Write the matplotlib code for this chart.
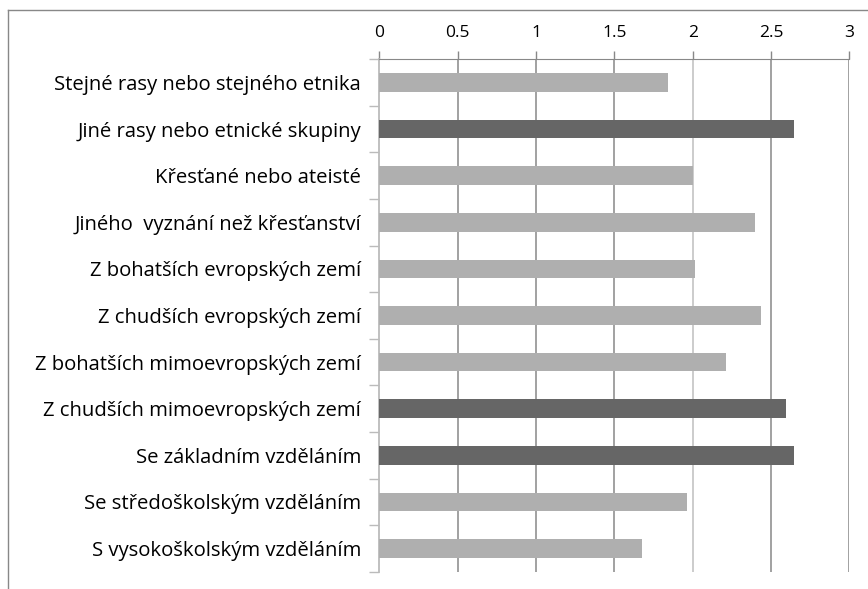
import matplotlib
matplotlib.use("Agg")
import matplotlib.pyplot as plt
import numpy as np
from matplotlib.lines import Line2D

categories = [
    "Stejné rasy nebo stejného etnika",
    "Jiné rasy nebo etnické skupiny",
    "Křesťané nebo ateisté",
    "Jiného  vyznání než křesťanství",
    "Z bohatších evropských zemí",
    "Z chudších evropských zemí",
    "Z bohatších mimoevropských zemí",
    "Z chudších mimoevropských zemí",
    "Se základním vzděláním",
    "Se středoškolským vzděláním",
    "S vysokoškolským vzděláním",
]
values = [1.84, 2.65, 2.0, 2.40, 2.015, 2.435, 2.21, 2.595, 2.65, 1.965, 1.675]
highlight = [False, True, False, False, False, False, False, True, True, False, False]
xticks = [0, 0.5, 1, 1.5, 2, 2.5, 3]
xtick_labels = ["0", "0.5", "1", "1.5", "2", "2.5", "3"]

light = "#AFAFAF"
dark = "#666666"

plt.rcParams['font.family'] = ['Open Sans', 'DejaVu Sans']

fig = plt.figure(figsize=(8.68, 5.89), dpi=100)
ax = fig.add_axes([379.3/868, 1-571.7/589, (849.3-379.3)/868, (571.7-59.3)/589])

n = len(categories)
y = np.arange(n)
colors = [dark if h else light for h in highlight]
ax.barh(y, values, height=0.4, color=colors, zorder=3)

ax.set_xlim(0, 3)
ax.set_ylim(n - 0.5, -0.5)
ax.xaxis.tick_top()
ax.set_xticks(xticks)
ax.set_xticklabels(xtick_labels, fontsize=12.5)
ax.tick_params(axis='x', direction='out', length=6, width=1, color='#888888', pad=7.5, labelcolor='black')

# y ticks at boundaries, labels at centers
ax.set_yticks(np.arange(-0.5, n, 1.0))
ax.set_yticklabels([])
ax.set_yticks(y, minor=True)
ax.set_yticklabels(categories, minor=True, fontsize=14.6)
ax.tick_params(axis='y', which='major', direction='out', length=7, width=1, color='#BBBBBB')
ax.tick_params(axis='y', which='minor', length=0, pad=13, labelcolor='black')

for xv in xticks[1:]:
    c = '#BFBFBF' if xv == 2 else '#878787'
    ax.axvline(xv, color=c, lw=1.1, zorder=1)

for s in ['right', 'bottom']:
    ax.spines[s].set_visible(False)
ax.spines['top'].set_color('#888888')
ax.spines['left'].set_color('#BBBBBB')
ax.spines['left'].set_linewidth(1.3)

# figure border (top and left visible)
fig.add_artist(Line2D([8/868, 1.0], [1-9.5/589, 1-9.5/589], transform=fig.transFigure, color='#888888', lw=1))
fig.add_artist(Line2D([8/868, 8/868], [0.0, 1-9.5/589], transform=fig.transFigure, color='#888888', lw=1))

fig.savefig("out.png", dpi=100)
